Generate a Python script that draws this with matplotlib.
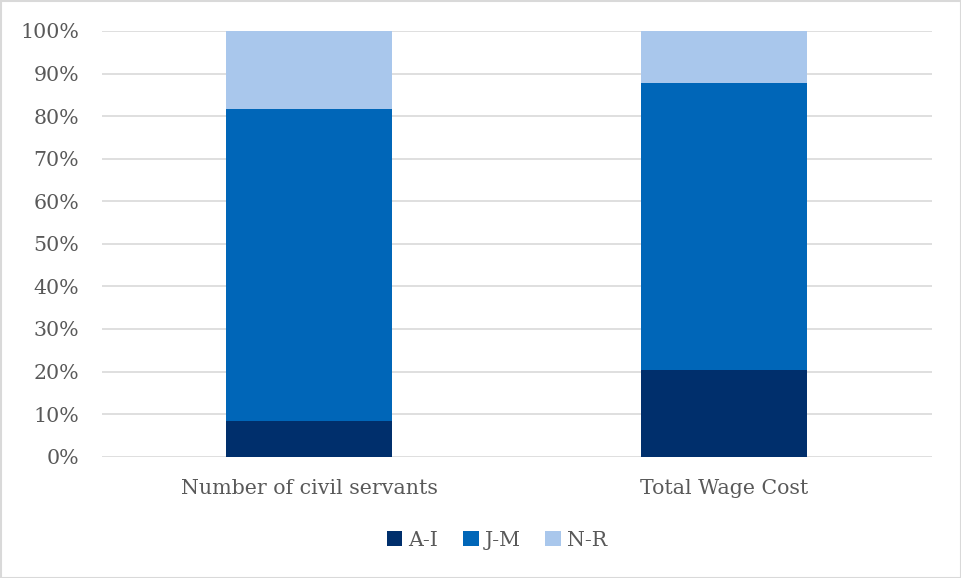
import matplotlib.pyplot as plt
from matplotlib.patches import Rectangle
from matplotlib.ticker import PercentFormatter

# Share of each grade group (percent)
categories = ["Number of civil servants", "Total Wage Cost"]
groups = ["A-I", "J-M", "N-R"]
a_i = [8.5, 20.4]
j_m = [73.2, 67.3]
n_r = [18.3, 12.3]
colors = ["#002F6C", "#0066B8", "#A9C7EC"]

plt.rcParams["font.family"] = ["DejaVu Serif"]
text_color = "#595959"

fig = plt.figure(figsize=(9.61, 5.78), dpi=100)
ax = fig.add_axes([101.5 / 961, 1 - 456.7 / 578, 830 / 961, (456.7 - 31) / 578])

x = range(len(categories))
bottom = [0, 0]
for name, vals, c in zip(groups, [a_i, j_m, n_r], colors):
    ax.bar(x, vals, width=0.4, bottom=bottom, color=c, label=name, zorder=3)
    bottom = [b + v for b, v in zip(bottom, vals)]

ax.set_xlim(-0.5, 1.5)
ax.set_ylim(0, 100)
ax.set_yticks(range(0, 101, 10))
ax.yaxis.set_major_formatter(PercentFormatter(decimals=0))
ax.set_xticks(list(x))
ax.set_xticklabels(categories)
ax.grid(axis="y", color="#D9D9D9", linewidth=1.2, zorder=0)
for s in ax.spines.values():
    s.set_visible(False)
ax.tick_params(axis="both", length=0, labelsize=14.8, colors=text_color)
ax.tick_params(axis="x", pad=16)
ax.tick_params(axis="y", pad=16)

fig.legend(loc="center", bbox_to_anchor=(497 / 961, 1 - 540 / 578), ncol=3,
           frameon=False, fontsize=14.8, labelcolor=text_color,
           handlelength=0.75, handleheight=0.75, handletextpad=0.3, columnspacing=1.2)

fig.patches.append(Rectangle((0.5 / 961, 0.5 / 578), 960 / 961, 577 / 578, transform=fig.transFigure,
                             fill=False, edgecolor="#D9D9D9", linewidth=1.5))

fig.savefig("out.png", dpi=100, facecolor="white")
